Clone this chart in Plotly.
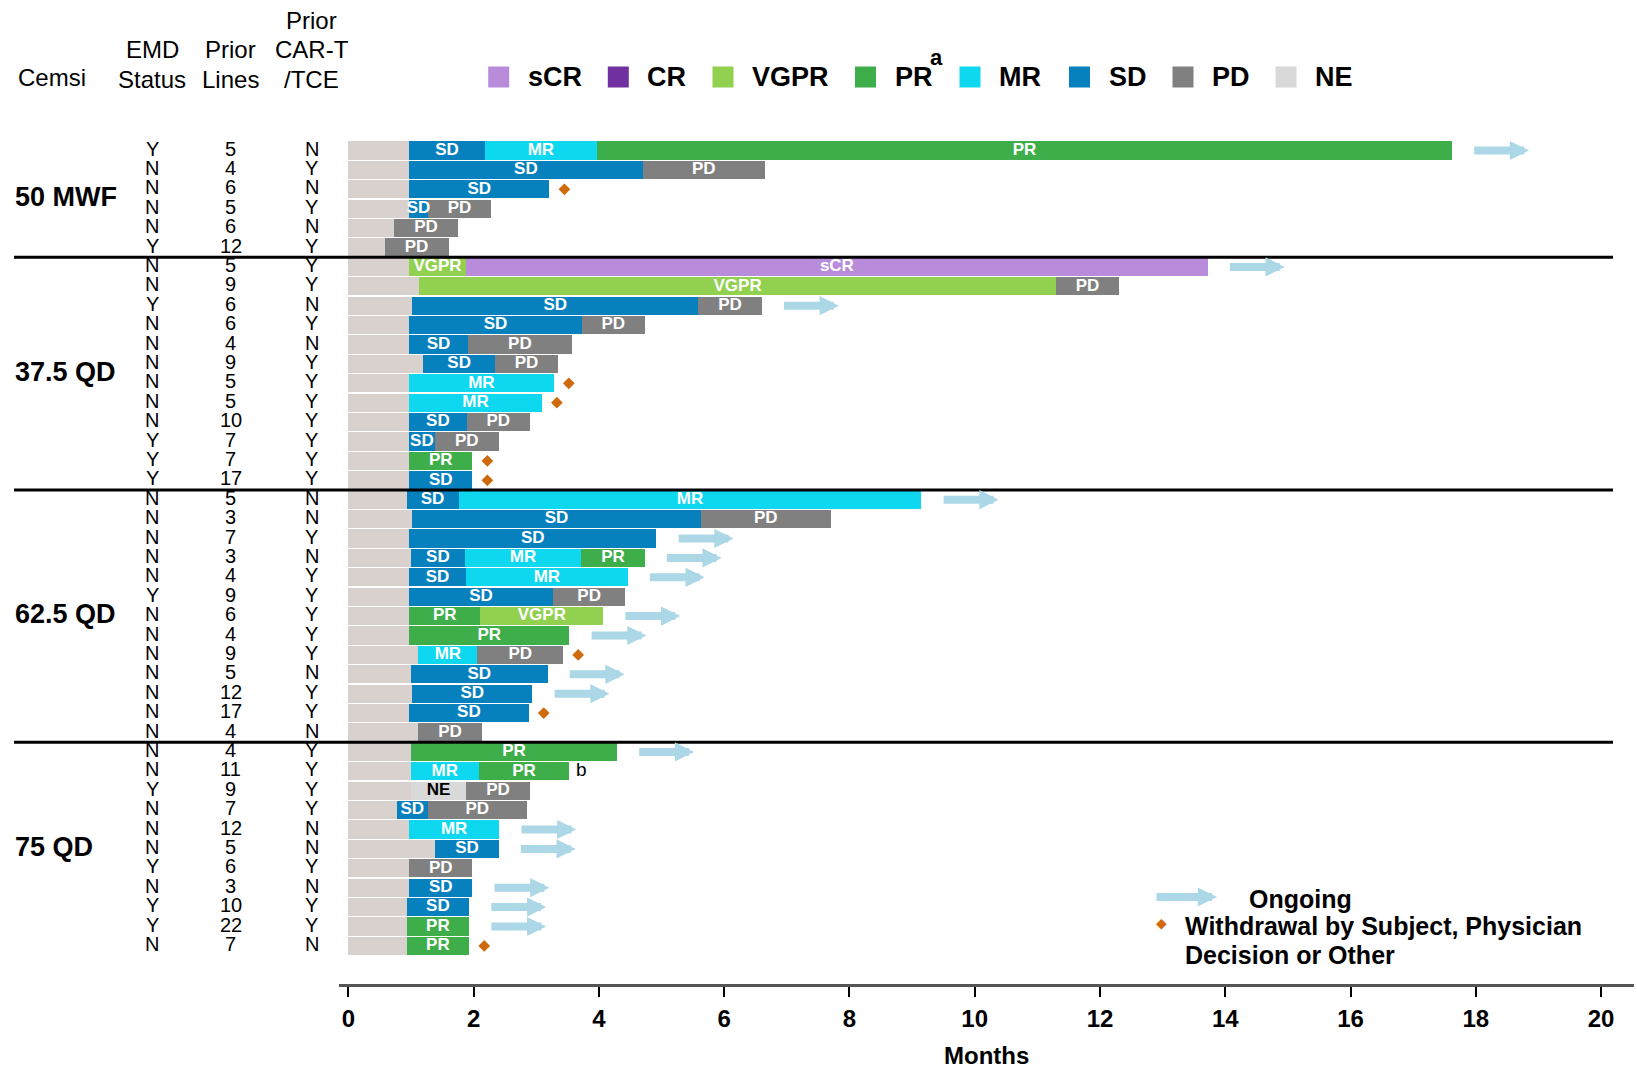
import plotly.graph_objects as go

# ---------------- data ----------------
dose_groups = ["50 MWF", "37.5 QD", "62.5 QD", "75 QD"]
group_sizes = [6, 12, 13, 11]

emd_status = ["Y", "N", "N", "N", "N", "Y",
              "N", "N", "Y", "N", "N", "N", "N", "N", "N", "Y", "Y", "Y",
              "N", "N", "N", "N", "N", "Y", "N", "N", "N", "N", "N", "N", "N",
              "N", "N", "Y", "N", "N", "N", "Y", "N", "Y", "Y", "N"]
prior_lines = [5, 4, 6, 5, 6, 12,
               5, 9, 6, 6, 4, 9, 5, 5, 10, 7, 7, 17,
               5, 3, 7, 3, 4, 9, 6, 4, 9, 5, 12, 17, 4,
               4, 11, 9, 7, 12, 5, 6, 3, 10, 22, 7]
prior_cart_tce = ["N", "Y", "N", "Y", "N", "Y",
                  "Y", "Y", "N", "Y", "N", "Y", "Y", "Y", "Y", "Y", "Y", "Y",
                  "N", "N", "Y", "N", "Y", "Y", "Y", "Y", "Y", "N", "Y", "Y", "N",
                  "Y", "Y", "Y", "Y", "N", "N", "Y", "N", "Y", "Y", "N"]

# response sequence per patient ("Pre" = time before first assessment)
response_seq = [
    ["Pre", "SD", "MR", "PR"], ["Pre", "SD", "PD"], ["Pre", "SD"], ["Pre", "SD", "PD"],
    ["Pre", "PD"], ["Pre", "PD"],
    ["Pre", "VGPR", "sCR"], ["Pre", "VGPR", "PD"], ["Pre", "SD", "PD"], ["Pre", "SD", "PD"],
    ["Pre", "SD", "PD"], ["Pre", "SD", "PD"], ["Pre", "MR"], ["Pre", "MR"],
    ["Pre", "SD", "PD"], ["Pre", "SD", "PD"], ["Pre", "PR"], ["Pre", "SD"],
    ["Pre", "SD", "MR"], ["Pre", "SD", "PD"], ["Pre", "SD"], ["Pre", "SD", "MR", "PR"],
    ["Pre", "SD", "MR"], ["Pre", "SD", "PD"], ["Pre", "PR", "VGPR"], ["Pre", "PR"],
    ["Pre", "MR", "PD"], ["Pre", "SD"], ["Pre", "SD"], ["Pre", "SD"], ["Pre", "PD"],
    ["Pre", "PR"], ["Pre", "MR", "PR"], ["Pre", "NE", "PD"], ["Pre", "SD", "PD"],
    ["Pre", "MR"], ["Pre", "SD"], ["Pre", "PD"], ["Pre", "SD"], ["Pre", "SD"],
    ["Pre", "PR"], ["Pre", "PR"],
]
# month at which each response period ends
response_end = [
    [0.97, 2.18, 3.97, 17.62], [0.97, 4.70, 6.65], [0.97, 3.21], [0.97, 1.27, 2.28],
    [0.73, 1.75], [0.58, 1.60],
    [0.97, 1.88, 13.72], [1.13, 11.30, 12.30], [1.02, 5.59, 6.60], [0.97, 3.73, 4.73],
    [0.97, 1.91, 3.57], [1.20, 2.34, 3.35], [0.97, 3.28], [0.97, 3.09],
    [0.97, 1.89, 2.90], [0.97, 1.38, 2.40], [0.97, 1.98], [0.97, 1.98],
    [0.93, 1.76, 9.15], [1.02, 5.63, 7.70], [0.97, 4.92], [1.00, 1.86, 3.72, 4.73],
    [0.97, 1.88, 4.46], [0.97, 3.27, 4.42], [0.97, 2.11, 4.07], [0.97, 3.53],
    [1.12, 2.06, 3.43], [1.00, 3.18], [1.02, 2.94], [0.97, 2.88], [1.12, 2.13],
    [1.00, 4.29], [1.00, 2.08, 3.53], [1.00, 1.88, 2.90], [0.77, 1.27, 2.85],
    [0.97, 2.41], [1.39, 2.40], [0.97, 1.98], [0.97, 1.98], [0.93, 1.93],
    [0.93, 1.93], [0.93, 1.93],
]
ongoing = [1, 0, 0, 0, 0, 0,
           1, 0, 1, 0, 0, 0, 0, 0, 0, 0, 0, 0,
           1, 0, 1, 1, 1, 0, 1, 1, 0, 1, 1, 0, 0,
           1, 0, 0, 0, 1, 1, 0, 1, 1, 1, 0]
withdrawn = [0, 0, 1, 0, 0, 0,
             0, 0, 0, 0, 0, 0, 1, 1, 0, 0, 1, 1,
             0, 0, 0, 0, 0, 0, 0, 0, 1, 0, 0, 1, 0,
             0, 0, 0, 0, 0, 0, 0, 0, 0, 0, 1]
footnote = [""] * 32 + ["b"] + [""] * 9

legend_cats = ["sCR", "CR", "VGPR", "PR", "MR", "SD", "PD", "NE"]
x_ticks = [0, 2, 4, 6, 8, 10, 12, 14, 16, 18, 20]
x_title = "Months"

# ---------------- style ----------------
FONT = "Liberation Sans, Arial, Helvetica, sans-serif"
COLORS = {
    "Pre": "#D8D1CE", "sCR": "#B98BDB", "CR": "#7030A0", "VGPR": "#92D050",
    "PR": "#3DAE4A", "MR": "#0ED8F0", "SD": "#0781BE", "PD": "#808080", "NE": "#D9D9D9",
}
ARROW_COLOR = "#ABD7E6"
DIAMOND_COLOR = "#CF6A0C"
ARROW_GAP, ARROW_LEN, DIAMOND_GAP, FOOT_GAP = 0.33, 0.90, 0.24, 0.19

W, H = 1637, 1072
L, R, T, B = 339, 1634, 130, 984
ROW0_PX, ROW_PX = 150.5, 19.40
X0_PX, MONTH_PX = 348.3, 62.64


def px_x(px):
    return (px - L) / (R - L)


def px_y(py):
    return (B - py) / (B - T)


n_rows = len(emd_status)
rows = list(range(n_rows))

fig = go.Figure()

# ---- bars ----
seg = {c: {"y": [], "base": [], "x": []} for c in COLORS}
lab_w = {"x": [], "y": [], "t": []}
lab_k = {"x": [], "y": [], "t": []}
for i, (seq, ends) in enumerate(zip(response_seq, response_end)):
    start = 0.0
    for c, e in zip(seq, ends):
        seg[c]["y"].append(i)
        seg[c]["base"].append(start)
        seg[c]["x"].append(e - start)
        if c != "Pre":
            tgt = lab_k if c == "NE" else lab_w
            tgt["x"].append((start + e) / 2)
            tgt["y"].append(i)
            tgt["t"].append("<b>%s</b>" % c)
        start = e

for c in COLORS:
    if not seg[c]["y"]:
        continue
    fig.add_trace(go.Bar(
        orientation="h", y=seg[c]["y"], x=seg[c]["x"], base=seg[c]["base"],
        width=0.94, marker=dict(color=COLORS[c], line=dict(width=0)),
        name=c, showlegend=False, hoverinfo="name+x",
    ))

for lab, col in ((lab_w, "white"), (lab_k, "black")):
    fig.add_trace(go.Scatter(
        mode="text", x=lab["x"], y=lab["y"], text=lab["t"],
        textfont=dict(family=FONT, size=17, color=col),
        cliponaxis=False, hoverinfo="skip", showlegend=False,
    ))

last_end = [ends[-1] for ends in response_end]

# withdrawal diamonds
wd_x = [last_end[i] + DIAMOND_GAP for i in rows if withdrawn[i]]
wd_y = [i for i in rows if withdrawn[i]]
fig.add_trace(go.Scatter(
    mode="markers", x=wd_x, y=wd_y,
    marker=dict(symbol="diamond", size=9, color=DIAMOND_COLOR),
    showlegend=False, hoverinfo="skip", cliponaxis=False,
))

# footnotes
fn_i = [i for i in rows if footnote[i]]
fig.add_trace(go.Scatter(
    mode="text", x=[last_end[i] + FOOT_GAP for i in fn_i], y=fn_i,
    text=[footnote[i] for i in fn_i],
    textfont=dict(family=FONT, size=19, color="black"),
    showlegend=False, hoverinfo="skip", cliponaxis=False,
))

annotations = []
shapes = []

# ongoing arrows
for i in rows:
    if ongoing[i]:
        annotations.append(dict(
            x=last_end[i] + ARROW_GAP + ARROW_LEN, y=i,
            ax=last_end[i] + ARROW_GAP, ay=i,
            xref="x", yref="y", axref="x", ayref="y", text="",
            showarrow=True, arrowhead=2, arrowwidth=8, arrowsize=0.48,
            arrowcolor=ARROW_COLOR, standoff=0, startstandoff=0,
        ))

# row descriptors
for i in rows:
    for val, cx in ((emd_status[i], 152), (prior_lines[i], 230.5), (prior_cart_tce[i], 311.5)):
        annotations.append(dict(
            x=px_x(cx), y=i, xref="paper", yref="y", text=str(val),
            showarrow=False, xanchor="center", yanchor="middle", yshift=2,
            font=dict(family=FONT, size=20, color="black"),
        ))

# group labels and separators
start = 0
for gi, (g, n) in enumerate(zip(dose_groups, group_sizes)):
    mid = start + (n - 1) / 2
    annotations.append(dict(
        x=px_x(13), y=mid, xref="paper", yref="y", text="<b>%s</b>" % g,
        showarrow=False, xanchor="left", yanchor="middle", yshift=2,
        font=dict(family=FONT, size=27, color="black"),
    ))
    start += n
    if gi < len(dose_groups) - 1:
        shapes.append(dict(
            type="line", xref="paper", yref="y", x0=px_x(14), x1=px_x(1613),
            y0=start - 0.5, y1=start - 0.5, line=dict(color="black", width=3),
        ))

# column headers
headers = [("Cemsi", 15.5, 78, "left"),
           ("EMD", 152, 50, "center"), ("Status", 152, 79, "center"),
           ("Prior", 230.5, 50, "center"), ("Lines", 230.5, 79, "center"),
           ("Prior", 311.5, 21, "center"), ("CAR-T", 311.5, 50, "center"),
           ("/TCE", 311.5, 79, "center")]
for txt, hx, hy, anc in headers:
    annotations.append(dict(
        x=px_x(hx), y=px_y(hy), xref="paper", yref="paper", text=txt,
        showarrow=False, xanchor=anc, yanchor="middle",
        font=dict(family=FONT, size=24, color="black"),
    ))

# response legend (top)
leg_sq_x = [498.7, 618.3, 723, 865.5, 970, 1079.5, 1183, 1286]
LEG_Y, SQ = 77, 21
for c, sx in zip(legend_cats, leg_sq_x):
    shapes.append(dict(
        type="rect", xref="paper", yref="paper",
        x0=px_x(sx - SQ / 2), x1=px_x(sx + SQ / 2),
        y0=px_y(LEG_Y + SQ / 2), y1=px_y(LEG_Y - SQ / 2),
        fillcolor=COLORS[c], line=dict(width=0),
    ))
    annotations.append(dict(
        x=px_x(sx + 27), y=px_y(LEG_Y), xref="paper", yref="paper", text="<b>%s</b>" % c,
        showarrow=False, xanchor="left", yanchor="middle",
        font=dict(family=FONT, size=27, color="black"),
    ))
    if c == "PR":
        annotations.append(dict(
            x=px_x(sx + 71), y=px_y(57), xref="paper", yref="paper", text="<b>a</b>",
            showarrow=False, xanchor="center", yanchor="middle",
            font=dict(family=FONT, size=22, color="black"),
        ))

# symbol legend (bottom right)
annotations.append(dict(
    x=px_x(1217), y=px_y(897), xref="paper", yref="paper", ax=-62, ay=0,
    text="", showarrow=True, arrowhead=2, arrowwidth=8, arrowsize=0.48,
    arrowcolor=ARROW_COLOR, standoff=0, startstandoff=0,
))
annotations.append(dict(
    x=px_x(1161), y=px_y(923), xref="paper", yref="paper", text="\u25C6",
    showarrow=False, xanchor="center", yanchor="middle",
    font=dict(family="DejaVu Sans", size=14, color=DIAMOND_COLOR),
))
for txt, tx, ty in (("Ongoing", 1247, 899),
                    ("Withdrawal by Subject, Physician", 1183, 926),
                    ("Decision or Other", 1183, 955)):
    annotations.append(dict(
        x=px_x(tx), y=px_y(ty), xref="paper", yref="paper", text="<b>%s</b>" % txt,
        showarrow=False, xanchor="left", yanchor="middle",
        font=dict(family=FONT, size=25, color="black"),
    ))

# x-axis title
annotations.append(dict(
    x=0.5, y=px_y(1071), xref="paper", yref="paper", text="<b>%s</b>" % x_title,
    showarrow=False, xanchor="center", yanchor="bottom",
    font=dict(family=FONT, size=24, color="black"),
))

fig.update_layout(
    width=W, height=H, autosize=False,
    margin=dict(l=L, r=W - R, t=T, b=H - B, pad=0),
    paper_bgcolor="white", plot_bgcolor="white",
    barmode="overlay", bargap=0,
    font=dict(family=FONT, color="black"),
    annotations=annotations, shapes=shapes,
    xaxis=dict(
        range=[(L - X0_PX) / MONTH_PX, (R - X0_PX) / MONTH_PX],
        tickvals=x_ticks, ticktext=[str(t) for t in x_ticks],
        showgrid=False, zeroline=False, automargin=False,
        showline=True, linecolor="#555555", linewidth=3,
        ticks="outside", ticklen=10, tickwidth=1.5, tickcolor="black",
        tickfont=dict(family=FONT, size=24, color="black", weight="bold"),
        ticklabelstandoff=1,
    ),
    yaxis=dict(
        range=[(B - ROW0_PX) / ROW_PX, (T - ROW0_PX) / ROW_PX],
        showgrid=False, zeroline=False, showline=False, automargin=False,
        showticklabels=False, ticks="",
    ),
)

fig.write_html("out.html", include_plotlyjs=True,
               config={"displayModeBar": False},
               post_script="document.body.style.margin='0px';document.body.style.overflow='hidden';")
